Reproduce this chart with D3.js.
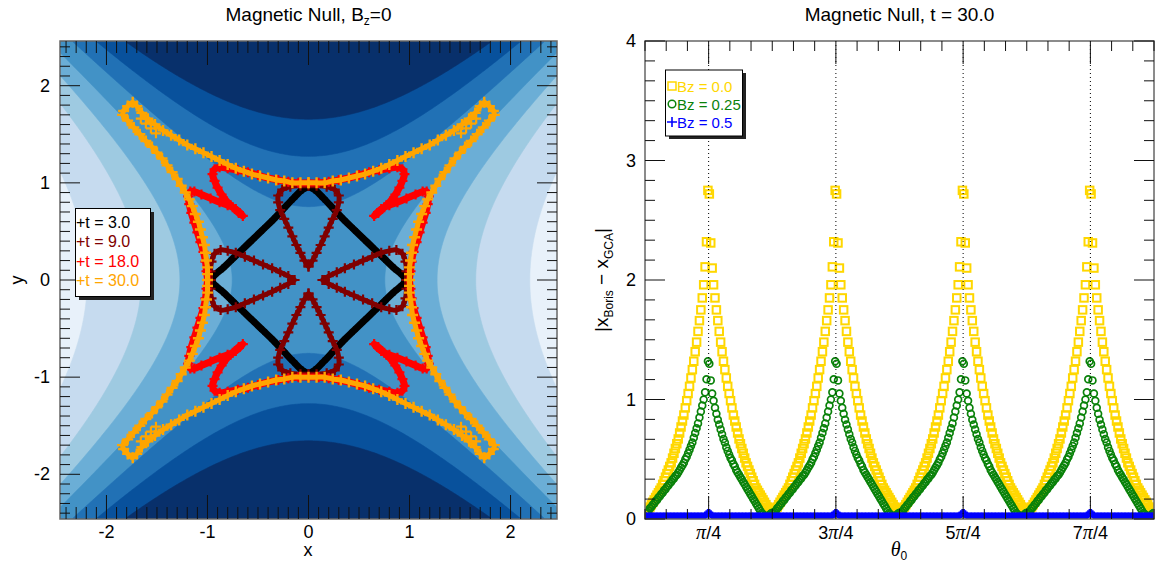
<!DOCTYPE html>
<html><head><meta charset="utf-8">
<script src="https://cdn.jsdelivr.net/npm/d3@7"></script>
<style>body{margin:0;background:#fff}svg{display:block}text{font-family:"Liberation Sans",Arial,sans-serif}</style>
</head><body><svg id="c" width="1156" height="563"></svg>
<script>
// ---------------- LEFT PANEL DATA (x, y positions) ----------------
const contourLevels = [-4.8, -2.74, -1.62, -0.57, 0.57, 1.62, 2.74];
const bandColors = ['#e8f1fa','#c6dbef','#9ecae1','#6baed6','#4292c6','#2171b5','#08519c','#08306b'];
const leftTicks = [-2, -1, 0, 1, 2];

const t3Path = [[0.00,0.96],[0.06,0.93],[0.15,0.84],[0.25,0.73],[0.35,0.62],[0.45,0.52],[0.55,0.42],[0.65,0.32],[0.75,0.22],[0.85,0.12],[0.93,0.05],[0.96,0.00],[0.93,-0.05],[0.85,-0.12],[0.75,-0.22],[0.65,-0.32],[0.55,-0.42],[0.45,-0.52],[0.35,-0.62],[0.25,-0.73],[0.15,-0.84],[0.06,-0.93],[0.00,-0.96],[-0.06,-0.93],[-0.15,-0.84],[-0.25,-0.73],[-0.35,-0.62],[-0.45,-0.52],[-0.55,-0.42],[-0.65,-0.32],[-0.75,-0.22],[-0.85,-0.12],[-0.93,-0.05],[-0.96,0.00],[-0.93,0.05],[-0.85,0.12],[-0.75,0.22],[-0.65,0.32],[-0.55,0.42],[-0.45,0.52],[-0.35,0.62],[-0.25,0.73],[-0.15,0.84],[-0.06,0.93],[0.00,0.96]];

const t9Loops = [
 [[0.00,0.14],[0.04,0.20],[0.08,0.28],[0.12,0.36],[0.16,0.45],[0.20,0.54],[0.24,0.63],[0.28,0.72],[0.30,0.80],[0.30,0.87],[0.26,0.93],[0.18,0.96],[0.08,0.97],[0.00,0.97],[-0.08,0.97],[-0.18,0.96],[-0.26,0.93],[-0.30,0.87],[-0.30,0.80],[-0.28,0.72],[-0.24,0.63],[-0.20,0.54],[-0.16,0.45],[-0.12,0.36],[-0.08,0.28],[-0.04,0.20],[0.00,0.14]],
 [[0.00,-0.14],[0.04,-0.20],[0.08,-0.28],[0.12,-0.36],[0.16,-0.45],[0.20,-0.54],[0.24,-0.63],[0.28,-0.72],[0.30,-0.80],[0.30,-0.87],[0.26,-0.93],[0.18,-0.96],[0.08,-0.97],[0.00,-0.97],[-0.08,-0.97],[-0.18,-0.96],[-0.26,-0.93],[-0.30,-0.87],[-0.30,-0.80],[-0.28,-0.72],[-0.24,-0.63],[-0.20,-0.54],[-0.16,-0.45],[-0.12,-0.36],[-0.08,-0.28],[-0.04,-0.20],[0.00,-0.14]],
 [[0.14,0.00],[0.20,0.04],[0.28,0.08],[0.36,0.12],[0.45,0.16],[0.54,0.20],[0.63,0.24],[0.72,0.28],[0.80,0.30],[0.87,0.31],[0.93,0.27],[0.96,0.19],[0.97,0.09],[0.97,0.00],[0.97,-0.09],[0.96,-0.19],[0.93,-0.27],[0.87,-0.31],[0.80,-0.30],[0.72,-0.28],[0.63,-0.24],[0.54,-0.20],[0.45,-0.16],[0.36,-0.12],[0.28,-0.08],[0.20,-0.04],[0.14,0.00]],
 [[-0.14,0.00],[-0.20,0.04],[-0.28,0.08],[-0.36,0.12],[-0.45,0.16],[-0.54,0.20],[-0.63,0.24],[-0.72,0.28],[-0.80,0.30],[-0.87,0.31],[-0.93,0.27],[-0.96,0.19],[-0.97,0.09],[-0.97,0.00],[-0.97,-0.09],[-0.96,-0.19],[-0.93,-0.27],[-0.87,-0.31],[-0.80,-0.30],[-0.72,-0.28],[-0.63,-0.24],[-0.54,-0.20],[-0.45,-0.16],[-0.36,-0.12],[-0.28,-0.08],[-0.20,-0.04],[-0.14,0.00]]
];

const t18Path = [[0.00,1.00],[-0.10,1.00],[-0.20,1.01],[-0.30,1.03],[-0.40,1.05],[-0.50,1.08],[-0.60,1.11],[-0.70,1.13],[-0.80,1.15],[-0.88,1.16],[-0.93,1.14],[-0.95,1.09],[-0.93,1.02],[-0.90,0.95],[-0.86,0.88],[-0.81,0.81],[-0.75,0.75],[-0.69,0.69],[-0.65,0.66],[-0.72,0.73],[-0.80,0.77],[-0.88,0.80],[-0.97,0.84],[-1.06,0.88],[-1.13,0.91],[-1.17,0.91],[-1.19,0.86],[-1.18,0.78],[-1.16,0.69],[-1.13,0.59],[-1.10,0.49],[-1.07,0.39],[-1.04,0.29],[-1.02,0.19],[-1.01,0.09],[-1.00,0.00],
[-1.01,-0.09],[-1.02,-0.19],[-1.04,-0.29],[-1.07,-0.39],[-1.10,-0.49],[-1.13,-0.59],[-1.16,-0.69],[-1.18,-0.78],[-1.19,-0.86],[-1.17,-0.91],[-1.13,-0.91],[-1.06,-0.88],[-0.97,-0.84],[-0.88,-0.80],[-0.80,-0.77],[-0.72,-0.73],[-0.65,-0.66],[-0.69,-0.69],[-0.75,-0.75],[-0.81,-0.81],[-0.86,-0.88],[-0.90,-0.95],[-0.93,-1.02],[-0.95,-1.09],[-0.93,-1.14],[-0.88,-1.16],[-0.80,-1.15],[-0.70,-1.13],[-0.60,-1.11],[-0.50,-1.08],[-0.40,-1.05],[-0.30,-1.03],[-0.20,-1.01],[-0.10,-1.00],[0.00,-1.00],
[0.10,-1.00],[0.20,-1.01],[0.30,-1.03],[0.40,-1.05],[0.50,-1.08],[0.60,-1.11],[0.70,-1.13],[0.80,-1.15],[0.88,-1.16],[0.93,-1.14],[0.95,-1.09],[0.93,-1.02],[0.90,-0.95],[0.86,-0.88],[0.81,-0.81],[0.75,-0.75],[0.69,-0.69],[0.65,-0.66],[0.72,-0.73],[0.80,-0.77],[0.88,-0.80],[0.97,-0.84],[1.06,-0.88],[1.13,-0.91],[1.17,-0.91],[1.19,-0.86],[1.18,-0.78],[1.16,-0.69],[1.13,-0.59],[1.10,-0.49],[1.07,-0.39],[1.04,-0.29],[1.02,-0.19],[1.01,-0.09],[1.00,0.00],
[1.01,0.09],[1.02,0.19],[1.04,0.29],[1.07,0.39],[1.10,0.49],[1.13,0.59],[1.16,0.69],[1.18,0.78],[1.19,0.86],[1.17,0.91],[1.13,0.91],[1.06,0.88],[0.97,0.84],[0.88,0.80],[0.80,0.77],[0.72,0.73],[0.65,0.66],[0.69,0.69],[0.75,0.75],[0.81,0.81],[0.86,0.88],[0.90,0.95],[0.93,1.02],[0.95,1.09],[0.93,1.14],[0.88,1.16],[0.80,1.15],[0.70,1.13],[0.60,1.11],[0.50,1.08],[0.40,1.05],[0.30,1.03],[0.20,1.01],[0.10,1.00],[0.00,1.00]];

const t30Path = [[0.00,1.00],[-0.08,1.00],[-0.16,1.00],[-0.24,1.02],[-0.32,1.03],[-0.40,1.05],[-0.48,1.07],[-0.56,1.09],[-0.64,1.12],[-0.72,1.15],[-0.80,1.19],[-0.88,1.23],[-0.96,1.27],[-1.04,1.31],[-1.12,1.35],[-1.20,1.39],[-1.28,1.44],[-1.36,1.49],[-1.44,1.54],[-1.52,1.60],[-1.59,1.66],[-1.65,1.72],[-1.70,1.79],[-1.74,1.83],[-1.79,1.79],[-1.83,1.74],[-1.84,1.70],[-1.79,1.64],[-1.73,1.57],[-1.67,1.50],[-1.61,1.43],[-1.55,1.37],[-1.50,1.31],[-1.45,1.25],[-1.40,1.18],[-1.35,1.11],[-1.30,1.04],[-1.26,0.97],[-1.22,0.90],[-1.18,0.83],[-1.15,0.76],[-1.12,0.68],[-1.09,0.60],[-1.07,0.52],[-1.05,0.44],[-1.03,0.36],[-1.02,0.28],[-1.01,0.20],[-1.00,0.13],[-1.00,0.06],[-1.00,0.00],
[-1.00,-0.06],[-1.00,-0.13],[-1.01,-0.20],[-1.02,-0.28],[-1.03,-0.36],[-1.05,-0.44],[-1.07,-0.52],[-1.09,-0.60],[-1.12,-0.68],[-1.15,-0.76],[-1.18,-0.83],[-1.22,-0.90],[-1.26,-0.97],[-1.30,-1.04],[-1.35,-1.11],[-1.40,-1.18],[-1.45,-1.25],[-1.50,-1.31],[-1.55,-1.37],[-1.61,-1.43],[-1.67,-1.50],[-1.73,-1.57],[-1.79,-1.64],[-1.84,-1.70],[-1.83,-1.74],[-1.79,-1.79],[-1.74,-1.83],[-1.70,-1.79],[-1.65,-1.72],[-1.59,-1.66],[-1.52,-1.60],[-1.44,-1.54],[-1.36,-1.49],[-1.28,-1.44],[-1.20,-1.39],[-1.12,-1.35],[-1.04,-1.31],[-0.96,-1.27],[-0.88,-1.23],[-0.80,-1.19],[-0.72,-1.15],[-0.64,-1.12],[-0.56,-1.09],[-0.48,-1.07],[-0.40,-1.05],[-0.32,-1.03],[-0.24,-1.02],[-0.16,-1.00],[-0.08,-1.00],[0.00,-1.00],
[0.08,-1.00],[0.16,-1.00],[0.24,-1.02],[0.32,-1.03],[0.40,-1.05],[0.48,-1.07],[0.56,-1.09],[0.64,-1.12],[0.72,-1.15],[0.80,-1.19],[0.88,-1.23],[0.96,-1.27],[1.04,-1.31],[1.12,-1.35],[1.20,-1.39],[1.28,-1.44],[1.36,-1.49],[1.44,-1.54],[1.52,-1.60],[1.59,-1.66],[1.65,-1.72],[1.70,-1.79],[1.74,-1.83],[1.79,-1.79],[1.83,-1.74],[1.84,-1.70],[1.79,-1.64],[1.73,-1.57],[1.67,-1.50],[1.61,-1.43],[1.55,-1.37],[1.50,-1.31],[1.45,-1.25],[1.40,-1.18],[1.35,-1.11],[1.30,-1.04],[1.26,-0.97],[1.22,-0.90],[1.18,-0.83],[1.15,-0.76],[1.12,-0.68],[1.09,-0.60],[1.07,-0.52],[1.05,-0.44],[1.03,-0.36],[1.02,-0.28],[1.01,-0.20],[1.00,-0.13],[1.00,-0.06],[1.00,0.00],
[1.00,0.06],[1.00,0.13],[1.01,0.20],[1.02,0.28],[1.03,0.36],[1.05,0.44],[1.07,0.52],[1.09,0.60],[1.12,0.68],[1.15,0.76],[1.18,0.83],[1.22,0.90],[1.26,0.97],[1.30,1.04],[1.35,1.11],[1.40,1.18],[1.45,1.25],[1.50,1.31],[1.55,1.37],[1.61,1.43],[1.67,1.50],[1.73,1.57],[1.79,1.64],[1.84,1.70],[1.83,1.74],[1.79,1.79],[1.74,1.83],[1.70,1.79],[1.65,1.72],[1.59,1.66],[1.52,1.60],[1.44,1.54],[1.36,1.49],[1.28,1.44],[1.20,1.39],[1.12,1.35],[1.04,1.31],[0.96,1.27],[0.88,1.23],[0.80,1.19],[0.72,1.15],[0.64,1.12],[0.56,1.09],[0.48,1.07],[0.40,1.05],[0.32,1.03],[0.24,1.02],[0.16,1.00],[0.08,1.00],[0.00,1.00]];

const t30Inner = [[-1.66,1.66],[-1.61,1.61],[-1.56,1.56],[-1.51,1.51],[1.66,1.66],[1.61,1.61],[1.56,1.56],[1.51,1.51],[-1.66,-1.66],[-1.61,-1.61],[-1.56,-1.56],[-1.51,-1.51],[1.66,-1.66],[1.61,-1.61],[1.56,-1.56],[1.51,-1.51]];

const leftSeries = [
  {label:'t = 3.0', color:'#000000'},
  {label:'t = 9.0', color:'#800000'},
  {label:'t = 18.0', color:'#ff0000'},
  {label:'t = 30.0', color:'#ffa500'}
];

const thetaDeg = d3.range(0.5, 360, 1);
const bz00 = [
0.07,0.08,0.09,0.10,0.12,0.14,0.16,0.18,0.20,0.22,0.24,0.26,0.29,0.32,0.35,0.38,0.41,0.44,0.47,0.51,0.55,0.59,0.63,0.67,0.72,0.77,0.82,0.87,0.93,0.99,1.05,1.11,1.18,1.25,1.32,1.40,1.48,1.57,1.66,1.75,1.85,1.96,2.11,2.32,2.75,
2.72,2.31,2.10,1.96,1.85,1.75,1.66,1.57,1.48,1.40,1.32,1.25,1.18,1.11,1.05,0.99,0.93,0.87,0.82,0.77,0.72,0.67,0.63,0.59,0.55,0.51,0.47,0.44,0.41,0.38,0.35,0.32,0.29,0.26,0.24,0.22,0.20,0.18,0.16,0.14,0.12,0.10,0.09,0.08,0.07,
0.07,0.08,0.09,0.10,0.12,0.14,0.16,0.18,0.20,0.22,0.24,0.26,0.29,0.32,0.35,0.38,0.41,0.44,0.47,0.51,0.55,0.59,0.63,0.67,0.72,0.77,0.82,0.87,0.93,0.99,1.05,1.11,1.18,1.25,1.32,1.40,1.48,1.57,1.66,1.75,1.85,1.96,2.11,2.32,2.75,
2.72,2.31,2.10,1.96,1.85,1.75,1.66,1.57,1.48,1.40,1.32,1.25,1.18,1.11,1.05,0.99,0.93,0.87,0.82,0.77,0.72,0.67,0.63,0.59,0.55,0.51,0.47,0.44,0.41,0.38,0.35,0.32,0.29,0.26,0.24,0.22,0.20,0.18,0.16,0.14,0.12,0.10,0.09,0.08,0.07,
0.07,0.08,0.09,0.10,0.12,0.14,0.16,0.18,0.20,0.22,0.24,0.26,0.29,0.32,0.35,0.38,0.41,0.44,0.47,0.51,0.55,0.59,0.63,0.67,0.72,0.77,0.82,0.87,0.93,0.99,1.05,1.11,1.18,1.25,1.32,1.40,1.48,1.57,1.66,1.75,1.85,1.96,2.11,2.32,2.75,
2.72,2.31,2.10,1.96,1.85,1.75,1.66,1.57,1.48,1.40,1.32,1.25,1.18,1.11,1.05,0.99,0.93,0.87,0.82,0.77,0.72,0.67,0.63,0.59,0.55,0.51,0.47,0.44,0.41,0.38,0.35,0.32,0.29,0.26,0.24,0.22,0.20,0.18,0.16,0.14,0.12,0.10,0.09,0.08,0.07,
0.07,0.08,0.09,0.10,0.12,0.14,0.16,0.18,0.20,0.22,0.24,0.26,0.29,0.32,0.35,0.38,0.41,0.44,0.47,0.51,0.55,0.59,0.63,0.67,0.72,0.77,0.82,0.87,0.93,0.99,1.05,1.11,1.18,1.25,1.32,1.40,1.48,1.57,1.66,1.75,1.85,1.96,2.11,2.32,2.75,
2.72,2.31,2.10,1.96,1.85,1.75,1.66,1.57,1.48,1.40,1.32,1.25,1.18,1.11,1.05,0.99,0.93,0.87,0.82,0.77,0.72,0.67,0.63,0.59,0.55,0.51,0.47,0.44,0.41,0.38,0.35,0.32,0.29,0.26,0.24,0.22,0.20,0.18,0.16,0.14,0.12,0.10,0.09,0.08,0.07];
const bz025 = [
0.05,0.06,0.07,0.09,0.10,0.12,0.13,0.15,0.16,0.18,0.19,0.21,0.22,0.24,0.25,0.27,0.28,0.30,0.31,0.33,0.34,0.36,0.37,0.39,0.41,0.43,0.45,0.47,0.50,0.52,0.55,0.58,0.61,0.64,0.68,0.72,0.76,0.80,0.85,0.90,0.95,1.00,1.06,1.17,1.32,
1.30,1.16,1.05,0.99,0.93,0.88,0.83,0.79,0.75,0.71,0.67,0.64,0.60,0.57,0.54,0.51,0.49,0.46,0.44,0.41,0.39,0.37,0.35,0.33,0.31,0.29,0.27,0.25,0.23,0.21,0.19,0.17,0.15,0.13,0.11,0.09,0.07,0.05,0.04,0.03,0.02,0.02,0.03,0.04,0.05,
0.05,0.06,0.07,0.09,0.10,0.12,0.13,0.15,0.16,0.18,0.19,0.21,0.22,0.24,0.25,0.27,0.28,0.30,0.31,0.33,0.34,0.36,0.37,0.39,0.41,0.43,0.45,0.47,0.50,0.52,0.55,0.58,0.61,0.64,0.68,0.72,0.76,0.80,0.85,0.90,0.95,1.00,1.06,1.17,1.32,
1.30,1.16,1.05,0.99,0.93,0.88,0.83,0.79,0.75,0.71,0.67,0.64,0.60,0.57,0.54,0.51,0.49,0.46,0.44,0.41,0.39,0.37,0.35,0.33,0.31,0.29,0.27,0.25,0.23,0.21,0.19,0.17,0.15,0.13,0.11,0.09,0.07,0.05,0.04,0.03,0.02,0.02,0.03,0.04,0.05,
0.05,0.06,0.07,0.09,0.10,0.12,0.13,0.15,0.16,0.18,0.19,0.21,0.22,0.24,0.25,0.27,0.28,0.30,0.31,0.33,0.34,0.36,0.37,0.39,0.41,0.43,0.45,0.47,0.50,0.52,0.55,0.58,0.61,0.64,0.68,0.72,0.76,0.80,0.85,0.90,0.95,1.00,1.06,1.17,1.32,
1.30,1.16,1.05,0.99,0.93,0.88,0.83,0.79,0.75,0.71,0.67,0.64,0.60,0.57,0.54,0.51,0.49,0.46,0.44,0.41,0.39,0.37,0.35,0.33,0.31,0.29,0.27,0.25,0.23,0.21,0.19,0.17,0.15,0.13,0.11,0.09,0.07,0.05,0.04,0.03,0.02,0.02,0.03,0.04,0.05,
0.05,0.06,0.07,0.09,0.10,0.12,0.13,0.15,0.16,0.18,0.19,0.21,0.22,0.24,0.25,0.27,0.28,0.30,0.31,0.33,0.34,0.36,0.37,0.39,0.41,0.43,0.45,0.47,0.50,0.52,0.55,0.58,0.61,0.64,0.68,0.72,0.76,0.80,0.85,0.90,0.95,1.00,1.06,1.17,1.32,
1.30,1.16,1.05,0.99,0.93,0.88,0.83,0.79,0.75,0.71,0.67,0.64,0.60,0.57,0.54,0.51,0.49,0.46,0.44,0.41,0.39,0.37,0.35,0.33,0.31,0.29,0.27,0.25,0.23,0.21,0.19,0.17,0.15,0.13,0.11,0.09,0.07,0.05,0.04,0.03,0.02,0.02,0.03,0.04,0.05];
const bz05 = [
0.02,0.02,0.02,0.02,0.02,0.02,0.02,0.02,0.02,0.02,0.02,0.02,0.02,0.02,0.02,0.02,0.02,0.02,0.02,0.02,0.02,0.02,0.02,0.02,0.02,0.02,0.02,0.02,0.02,0.02,0.02,0.02,0.02,0.02,0.02,0.02,0.02,0.02,0.02,0.02,0.02,0.02,0.03,0.04,0.05,
0.05,0.04,0.03,0.02,0.02,0.02,0.02,0.02,0.02,0.02,0.02,0.02,0.02,0.02,0.02,0.02,0.02,0.02,0.02,0.02,0.02,0.02,0.02,0.02,0.02,0.02,0.02,0.02,0.02,0.02,0.02,0.02,0.02,0.02,0.02,0.02,0.02,0.02,0.02,0.02,0.02,0.02,0.02,0.02,0.02,
0.02,0.02,0.02,0.02,0.02,0.02,0.02,0.02,0.02,0.02,0.02,0.02,0.02,0.02,0.02,0.02,0.02,0.02,0.02,0.02,0.02,0.02,0.02,0.02,0.02,0.02,0.02,0.02,0.02,0.02,0.02,0.02,0.02,0.02,0.02,0.02,0.02,0.02,0.02,0.02,0.02,0.02,0.03,0.04,0.05,
0.05,0.04,0.03,0.02,0.02,0.02,0.02,0.02,0.02,0.02,0.02,0.02,0.02,0.02,0.02,0.02,0.02,0.02,0.02,0.02,0.02,0.02,0.02,0.02,0.02,0.02,0.02,0.02,0.02,0.02,0.02,0.02,0.02,0.02,0.02,0.02,0.02,0.02,0.02,0.02,0.02,0.02,0.02,0.02,0.02,
0.02,0.02,0.02,0.02,0.02,0.02,0.02,0.02,0.02,0.02,0.02,0.02,0.02,0.02,0.02,0.02,0.02,0.02,0.02,0.02,0.02,0.02,0.02,0.02,0.02,0.02,0.02,0.02,0.02,0.02,0.02,0.02,0.02,0.02,0.02,0.02,0.02,0.02,0.02,0.02,0.02,0.02,0.03,0.04,0.05,
0.05,0.04,0.03,0.02,0.02,0.02,0.02,0.02,0.02,0.02,0.02,0.02,0.02,0.02,0.02,0.02,0.02,0.02,0.02,0.02,0.02,0.02,0.02,0.02,0.02,0.02,0.02,0.02,0.02,0.02,0.02,0.02,0.02,0.02,0.02,0.02,0.02,0.02,0.02,0.02,0.02,0.02,0.02,0.02,0.02,
0.02,0.02,0.02,0.02,0.02,0.02,0.02,0.02,0.02,0.02,0.02,0.02,0.02,0.02,0.02,0.02,0.02,0.02,0.02,0.02,0.02,0.02,0.02,0.02,0.02,0.02,0.02,0.02,0.02,0.02,0.02,0.02,0.02,0.02,0.02,0.02,0.02,0.02,0.02,0.02,0.02,0.02,0.03,0.04,0.05,
0.05,0.04,0.03,0.02,0.02,0.02,0.02,0.02,0.02,0.02,0.02,0.02,0.02,0.02,0.02,0.02,0.02,0.02,0.02,0.02,0.02,0.02,0.02,0.02,0.02,0.02,0.02,0.02,0.02,0.02,0.02,0.02,0.02,0.02,0.02,0.02,0.02,0.02,0.02,0.02,0.02,0.02,0.02,0.02,0.02];
const rightXTickLabels = [['','π','/4'],['3','π','/4'],['5','π','/4'],['7','π','/4']];
const rightXTickPos = [1, 3, 5, 7]; // multiples of pi/4
const rightYTicks = [0, 1, 2, 3, 4];
const rightSeries = [
  {label:'Bz = 0.0', color:'#ffd700', sym:'square'},
  {label:'Bz = 0.25', color:'#0a820a', sym:'circle'},
  {label:'Bz = 0.5', color:'#0000ff', sym:'plus'}
];

// ---------------- DRAWING ----------------
const svg = d3.select('#c');
const L = {x0:60, x1:557, y0:41, y1:519};
const R = {x0:645, x1:1154, y0:41, y1:519};
const lx = d3.scaleLinear().domain([-2.46, 2.46]).range([L.x0, L.x1]);
const ly = d3.scaleLinear().domain([-2.46, 2.46]).range([L.y1, L.y0]);
const rx = d3.scaleLinear().domain([0, 2*Math.PI]).range([R.x0, R.x1]);
const ry = d3.scaleLinear().domain([0, 4]).range([R.y1, R.y0]);

const defs = svg.append('defs');
defs.append('clipPath').attr('id','clipL').append('rect').attr('x',L.x0).attr('y',L.y0).attr('width',L.x1-L.x0).attr('height',L.y1-L.y0);
defs.append('clipPath').attr('id','clipR').append('rect').attr('x',R.x0).attr('y',R.y0-6).attr('width',R.x1-R.x0).attr('height',R.y1-R.y0+6);

// background contour of the flux function (y^2 - x^2) of the X-point field
const n = 240;
const fluxGrid = new Array(n*n);
for (let j = 0; j < n; j++) for (let i = 0; i < n; i++) {
  const x = -2.46 + (i + 0.5) * 4.92 / n, y = -2.46 + (j + 0.5) * 4.92 / n;
  fluxGrid[j*n + i] = y*y - x*x;
}
const gL = svg.append('g').attr('clip-path','url(#clipL)');
gL.append('rect').attr('x',L.x0).attr('y',L.y0).attr('width',L.x1-L.x0).attr('height',L.y1-L.y0).attr('fill',bandColors[0]);
const proj = d3.geoTransform({point: function(x, y){ this.stream.point(lx(-2.46 + x*4.92/n), ly(-2.46 + y*4.92/n)); }});
const gpath = d3.geoPath(proj);
const conts = d3.contours().size([n, n]).thresholds(contourLevels)(fluxGrid);
conts.forEach((c, k) => {
  gL.append('path').attr('d', gpath(c)).attr('fill', bandColors[k+1]).attr('stroke', bandColors[k+1]).attr('stroke-width', 0.6);
});

// trajectories
const lineL = d3.line().x(d => lx(d[0])).y(d => ly(d[1])).curve(d3.curveCatmullRom.alpha(0.5));
function plusAt(g, pts, color, h, w, sx, sy) {
  g.selectAll(null).data(pts).enter().append('path')
    .attr('d', d => { const X = sx(d[0]), Y = sy(d[1]); return `M${X-h},${Y}H${X+h}M${X},${Y-h}V${Y+h}`; })
    .attr('stroke', color).attr('stroke-width', w).attr('fill', 'none');
}
function traj(pts, color, lw, h, w) {
  gL.append('path').attr('d', lineL(pts)).attr('fill','none').attr('stroke',color).attr('stroke-width',lw).attr('stroke-linejoin','round').attr('stroke-linecap','round');
  plusAt(gL, pts, color, h, w, lx, ly);
}
traj(t3Path, leftSeries[0].color, 7, 4, 2);
t9Loops.forEach(lp => traj(lp, leftSeries[1].color, 5, 5, 2.2));
traj(t18Path, leftSeries[2].color, 7, 5, 2.2);
traj(t30Path, leftSeries[3].color, 5, 5.5, 2.4);
plusAt(gL, t30Inner, leftSeries[3].color, 5, 2.2, lx, ly);

// frames + ticks
function frame(P) {
  svg.append('rect').attr('x',P.x0).attr('y',P.y0).attr('width',P.x1-P.x0).attr('height',P.y1-P.y0)
    .attr('fill','none').attr('stroke','#666').attr('stroke-width',1.5);
}
function tickLines(P, xs, ys, xvals, xlen, yvals, ylen) {
  const g = svg.append('g').attr('stroke','#111').attr('stroke-width',1);
  xvals.forEach(v => { const X = xs(v);
    g.append('line').attr('x1',X).attr('x2',X).attr('y1',P.y1).attr('y2',P.y1-xlen(v));
    g.append('line').attr('x1',X).attr('x2',X).attr('y1',P.y0).attr('y2',P.y0+xlen(v)); });
  yvals.forEach(v => { const Y = ys(v);
    g.append('line').attr('y1',Y).attr('y2',Y).attr('x1',P.x0).attr('x2',P.x0+ylen(v));
    g.append('line').attr('y1',Y).attr('y2',Y).attr('x1',P.x1).attr('x2',P.x1-ylen(v)); });
}
const minorL = d3.range(-24, 25).map(i => i/10);
const isMaj = v => Math.abs(v - Math.round(v)) < 1e-6;
frame(L);
tickLines(L, lx, ly, minorL, v => isMaj(v) ? 24 : 12, minorL, v => isMaj(v) ? 20 : 10);

// left labels
svg.append('g').selectAll('text').data(leftTicks).enter().append('text')
  .attr('x', d => lx(d)).attr('y', 538).attr('text-anchor','middle').attr('font-size',18).text(d => d);
svg.append('g').selectAll('text').data(leftTicks).enter().append('text')
  .attr('x', 50).attr('y', d => ly(d) + 6).attr('text-anchor','end').attr('font-size',18).text(d => d);
svg.append('text').attr('x', 308).attr('y', 556).attr('text-anchor','middle').attr('font-size',18).text('x');
svg.append('text').attr('transform','translate(23,280) rotate(-90)').attr('text-anchor','middle').attr('font-size',18).text('y');
const t1 = svg.append('text').attr('x', 308.5).attr('y', 21).attr('text-anchor','middle').attr('font-size',19);
t1.append('tspan').text('Magnetic Null, B');
t1.append('tspan').attr('font-size',12).attr('dy',4).text('z');
t1.append('tspan').attr('dy',-4).text('=0');

// left legend
const lgL = svg.append('g');
lgL.append('rect').attr('x',79).attr('y',212).attr('width',75).attr('height',88).attr('fill','#222');
lgL.append('rect').attr('x',75.5).attr('y',208.5).attr('width',75).attr('height',88).attr('fill','#fff').attr('stroke','#000').attr('stroke-width',1);
leftSeries.forEach((s, i) => {
  lgL.append('text').attr('x',76).attr('y',228 + i*19.3).attr('font-size',16).attr('fill',s.color).text('+' + s.label);
});

// ---------------- RIGHT PANEL ----------------
const gR = svg.append('g').attr('clip-path','url(#clipR)');
rightXTickPos.forEach(k => {
  svg.append('line').attr('x1', rx(k*Math.PI/4)).attr('x2', rx(k*Math.PI/4)).attr('y1', R.y0).attr('y2', R.y1)
    .attr('stroke','#000').attr('stroke-width',1).attr('stroke-dasharray','1,3');
});
const rad = d => d * Math.PI / 180;
gR.selectAll('rect.y').data(bz00).enter().append('rect')
  .attr('x', (d, i) => rx(rad(thetaDeg[i])) - 3.75).attr('y', d => ry(d) - 3.75).attr('width', 7.5).attr('height', 7.5)
  .attr('fill','none').attr('stroke', rightSeries[0].color).attr('stroke-width', 2);
gR.selectAll('circle.g').data(bz025).enter().append('circle')
  .attr('cx', (d, i) => rx(rad(thetaDeg[i]))).attr('cy', d => ry(d)).attr('r', 3.4)
  .attr('fill','none').attr('stroke', rightSeries[1].color).attr('stroke-width', 1.7);
plusAt(gR, bz05.map((d, i) => [rad(thetaDeg[i]), d]), rightSeries[2].color, 4, 2.2, rx, ry);

frame(R);
const minorRx = d3.range(0, 25).map(i => i * Math.PI / 12);
const majRx = v => { const k = v / (Math.PI/4); return Math.abs(k - Math.round(k)) < 1e-6 && Math.round(k) % 2 === 1; };
const minorRy = d3.range(0, 25).map(i => i / 6);
tickLines(R, rx, ry, minorRx, v => majRx(v) ? 23 : 10, minorRy, v => isMaj(v) ? 20 : 10);

rightXTickLabels.forEach((parts, i) => {
  const t = svg.append('text').attr('x', rx(rightXTickPos[i]*Math.PI/4)).attr('y', 539).attr('text-anchor','middle').attr('font-size',18);
  t.append('tspan').text(parts[0]);
  t.append('tspan').attr('font-family','"Liberation Serif",serif').attr('font-style','italic').attr('font-size',20).text(parts[1]);
  t.append('tspan').text(parts[2]);
});
svg.append('g').selectAll('text').data(rightYTicks).enter().append('text')
  .attr('x', 636).attr('y', d => ry(d) + 6).attr('text-anchor','end').attr('font-size',18).text(d => d);
const th = svg.append('text').attr('x', 899).attr('y', 556).attr('text-anchor','middle');
th.append('tspan').attr('font-family','"Liberation Serif",serif').attr('font-style','italic').attr('font-size',20).text('θ');
th.append('tspan').attr('font-size',12).attr('dy',4).text('0');
const yl = svg.append('text').attr('transform','translate(608,280) rotate(-90)').attr('text-anchor','middle').attr('font-size',19);
yl.append('tspan').text('|x');
yl.append('tspan').attr('font-size',12).attr('dy',5).text('Boris');
yl.append('tspan').attr('dy',-5).text(' − x');
yl.append('tspan').attr('font-size',12).attr('dy',5).text('GCA');
yl.append('tspan').attr('dy',-5).text('|');
svg.append('text').attr('x', 899.5).attr('y', 21).attr('text-anchor','middle').attr('font-size',19).text('Magnetic Null, t = 30.0');

// right legend
const lgR = svg.append('g');
lgR.append('rect').attr('x',669).attr('y',73).attr('width',77).attr('height',66).attr('fill','#222');
lgR.append('rect').attr('x',665.5).attr('y',70).attr('width',77).attr('height',66).attr('fill','#fff').attr('stroke','#000').attr('stroke-width',1);
rightSeries.forEach((s, i) => {
  const cy = 86 + i*18, x = 672;
  if (s.sym === 'square') lgR.append('rect').attr('x',x-4).attr('y',cy-4).attr('width',8).attr('height',8).attr('fill','none').attr('stroke',s.color).attr('stroke-width',1.5);
  else if (s.sym === 'circle') lgR.append('circle').attr('cx',x).attr('cy',cy).attr('r',3.8).attr('fill','none').attr('stroke',s.color).attr('stroke-width',1.5);
  else lgR.append('path').attr('d',`M${x-5},${cy}H${x+5}M${x},${cy-5}V${cy+5}`).attr('stroke',s.color).attr('stroke-width',1.6);
  lgR.append('text').attr('x',677).attr('y',cy+5.5).attr('font-size',15).attr('fill',s.color).text(s.label);
});
</script></body></html>
